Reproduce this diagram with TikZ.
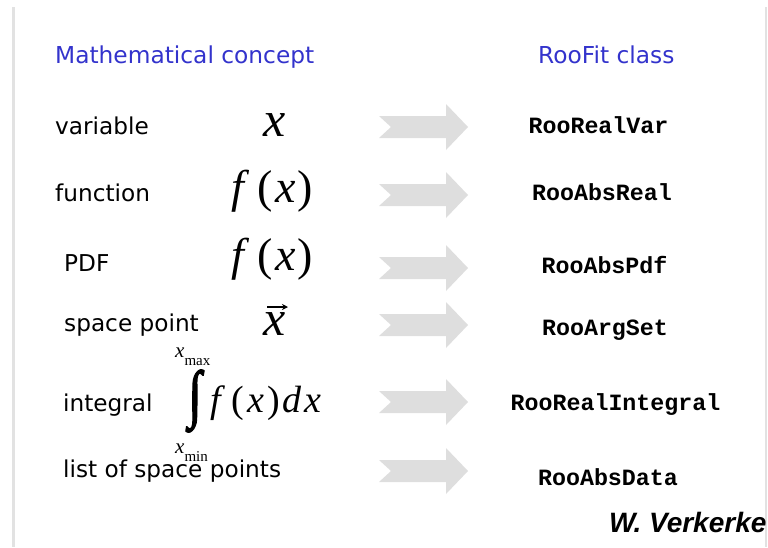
\documentclass[tikz,border=0pt]{standalone}
\usepackage{fontspec}
\usetikzlibrary{arrows.meta}
\setmainfont{DejaVu Sans}
\newfontfamily\codefont{Liberation Mono}
\newfontfamily\mathserif{Liberation Serif}
\newfontfamily\intfont[FakeBold=2.5]{Liberation Serif}
\newfontfamily\authorfont{Liberation Sans}
\definecolor{headblue}{RGB}{51,51,204}
\definecolor{arrowgray}{RGB}{222,222,222}
\definecolor{edgegray}{RGB}{226,226,226}
\tikzset{
  header/.style={anchor=base west, inner sep=0pt, text=headblue, font=\fontsize{23.3}{27}\selectfont},
  concept/.style={anchor=base west, inner sep=0pt, font=\fontsize{23.2}{27}\selectfont},
  cls/.style={anchor=base, inner sep=0pt, font=\codefont\bfseries\fontsize{23.3}{27}\selectfont},
  mth/.style={anchor=base west, inner sep=0pt, font=\mathserif\itshape\fontsize{46}{50}\selectfont},
  limit/.style={anchor=base west, inner sep=0pt, font=\mathserif\itshape\fontsize{21}{23}\selectfont},
  bigarrow/.pic={\fill[arrowgray] (-44.5,-11) -- (-32.5,0) -- (-44.5,11) -- (22.5,11) -- (22.5,23) -- (44.5,0) -- (22.5,-23) -- (22.5,-11) -- cycle;}
}
\begin{document}
\begin{tikzpicture}[x=1pt,y=-1pt]
\useasboundingbox (0,0) rectangle (768,547);
% slide edges
\fill[edgegray] (12,7) rectangle (15,547);
\fill[edgegray] (765,7) rectangle (767,547);
% headers
\node[header] (hmath) at (55,63) {Mathematical concept};
\node[header] (hroo) at (538,63) {RooFit class};
% concepts
\node[concept] (c1) at (55,134) {variable};
\node[concept] (c2) at (55,201) {function};
\node[concept] (c3) at (64,271) {PDF};
\node[concept] (c4) at (64,331) {space point};
\node[concept] (c5) at (63,411) {integral};
\node[concept] (c6) at (63,477) {list of space points};
% math
\node[mth, font=\mathserif\itshape\fontsize{50}{54}\selectfont] (m1) at (263,136) {x};
\node[mth] (m2) at (231,202) {f\kern14pt{\upshape(}\kern2pt x\kern2pt{\upshape)}};
\node[mth] (m3) at (231,270) {f\kern14pt{\upshape(}\kern2pt x\kern2pt{\upshape)}};
\node[mth, font=\mathserif\itshape\fontsize{50}{54}\selectfont] (m4) at (263,335) {x};
\draw[line width=1.6pt, -{Stealth[length=6pt,width=6pt]}] (267,307) -- (288,307);
\node[inner sep=0pt, font=\intfont\fontsize{46}{50}\selectfont] (m5int) at (195,401) {\scalebox{1.05}[1.38]{∫}};
\node[mth, font=\mathserif\itshape\fontsize{38}{42}\selectfont] (m5) at (210,412) {f\kern11pt{\upshape(}\kern3pt x\kern3pt{\upshape)}\kern3pt d\kern3pt x};
\node[limit] (m5max) at (175,357) {x\raisebox{-8pt}{\upshape\fontsize{15}{17}\selectfont max}};
\node[limit] (m5min) at (175,453) {x\raisebox{-8pt}{\upshape\fontsize{15}{17}\selectfont min}};
% arrows
\pic at (423.5,127) {bigarrow};
\pic at (423.5,195) {bigarrow};
\pic at (423.5,268) {bigarrow};
\pic at (423.5,325) {bigarrow};
\pic at (423.5,402) {bigarrow};
\pic at (423.5,471) {bigarrow};
% classes
\node[cls] (r1) at (598.5,133) {RooRealVar};
\node[cls] (r2) at (602,200) {RooAbsReal};
\node[cls] (r3) at (604.5,273) {RooAbsPdf};
\node[cls] (r4) at (605,335) {RooArgSet};
\node[cls] (r5) at (615.5,410) {RooRealIntegral};
\node[cls] (r6) at (608,485) {RooAbsData};
% author
\begin{scope}
\clip (0,0) rectangle (765,547);
\node[anchor=base west, inner sep=0pt, font=\authorfont\bfseries\itshape\fontsize{28}{32}\selectfont] (author) at (609,532) {W. Verkerke};
\end{scope}
\end{tikzpicture}
\end{document}
